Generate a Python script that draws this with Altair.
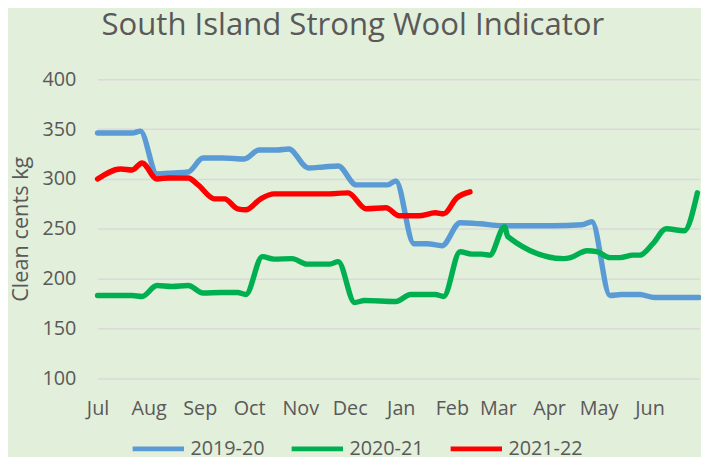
import altair as alt
import pandas as pd

series = ["2019-20", "2020-21", "2021-22"]
colors = ["#5B9BD5", "#00B050", "#FF0000"]
y_ticks = [100, 150, 200, 250, 300, 350, 400]

# days since 1 July
days_2019_20 = [0, 13, 21, 26, 36, 46, 55, 64, 76, 89, 98, 109, 116, 128, 137, 146, 157, 166, 176, 181,
                192, 200, 209, 220, 232, 245, 259, 276, 294, 300, 311, 318, 329, 338, 352, 365]
vals_2019_20 = [346, 346, 346, 348, 305, 306, 307, 321, 321, 320, 329, 329, 330, 311, 312, 313, 294, 294, 294, 298,
                235, 235, 233, 256, 255, 253, 253, 253, 254, 257, 183, 184, 184, 181, 181, 181]

days_2020_21 = [0, 21, 27, 36, 45, 55, 64, 75, 85, 90, 100, 107, 118, 127, 141, 146, 156, 162, 181, 190,
                205, 210, 220, 227, 233, 238, 247, 249, 283, 287, 297, 303, 311, 317, 325, 329, 337, 345, 356, 364]
vals_2020_21 = [183, 183, 182, 193, 192, 193, 185.5, 186, 186, 184, 222, 219.5, 220, 214.5, 214.5, 217, 176, 178, 177, 184,
                184, 182, 227, 224.5, 224.5, 223.5, 252, 242, 220, 221, 228, 227, 221, 221, 223.5, 223.5, 235, 250, 248, 286]

days_2021_22 = [0, 14, 21, 27, 36, 43, 55, 61, 71, 77, 85, 90, 99, 107, 121, 139, 152, 163, 175,
                183, 195, 205, 210, 218, 226]
vals_2021_22 = [300, 310, 309, 316, 300, 301, 301, 294, 280, 280, 270, 269, 280, 285, 285, 285, 286, 270, 271,
                263, 263, 266, 265, 281, 287]

start = pd.Timestamp("2021-07-01")
rows = []
for name, days, vals in [("2019-20", days_2019_20, vals_2019_20),
                         ("2020-21", days_2020_21, vals_2020_21),
                         ("2021-22", days_2021_22, vals_2021_22)]:
    for d, v in zip(days, vals):
        rows.append({"date": (start + pd.Timedelta(days=d)).strftime("%Y-%m-%dT%H:%M:%S"),
                     "value": v, "season": name})
df = pd.DataFrame(rows)

tick_dates = [alt.DateTime(year=2021 if m >= 7 else 2022, month=m, date=1)
              for m in [7, 8, 9, 10, 11, 12, 1, 2, 3, 4, 5, 6]]

TXT = "#595959"
FONT = "Open Sans"

chart = alt.Chart(df).mark_line(
    strokeWidth=5.5, interpolate="monotone", strokeCap="round", strokeJoin="round"
).encode(
    x=alt.X("date:T",
            scale=alt.Scale(domain=[alt.DateTime(year=2021, month=7, date=1),
                                    alt.DateTime(year=2022, month=7, date=1)]),
            axis=alt.Axis(values=tick_dates, format="%b", title=None, grid=False, domain=False,
                          ticks=False, labelFlush=False, labelPadding=21, labelFontSize=20,
                          labelColor=TXT, labelFont=FONT, labelOverlap=False)),
    y=alt.Y("value:Q",
            scale=alt.Scale(domain=[100, 400], nice=False, zero=False),
            axis=alt.Axis(values=y_ticks, title="Clean cents kg", domain=False, ticks=False,
                          labelPadding=22, labelFontSize=20, labelColor=TXT, labelFont=FONT,
                          gridColor="#D9D9D9", gridWidth=1.5,
                          titleFontSize=22, titleFont=FONT, titleColor=TXT, titleFontWeight="normal",
                          titleX=-70.7, titleY=151.35, titleAngle=270, titleBaseline="alphabetic",
                          titleAlign="center")),
    color=alt.Color("season:N",
                    scale=alt.Scale(domain=series, range=colors),
                    legend=alt.Legend(title=None, orient="none", legendX=33, legendY=345.5,
                                      direction="horizontal", symbolType="stroke", symbolSize=2704,
                                      symbolStrokeWidth=5, labelFontSize=20, labelFont=FONT,
                                      labelColor=TXT, labelOffset=4, columnPadding=16, padding=0))
).properties(
    width=609,
    height=302.7,
    title=alt.TitleParams("South Island Strong Wool Indicator", fontSize=31.5, font=FONT,
                          color=TXT, fontWeight="normal", anchor="middle", dx=-46,
                          baseline="alphabetic", offset=3),
    padding={"left": 90.7, "top": 69.3, "right": 2, "bottom": 85},
    autosize="none",
    background="#E2EFDA",
).configure_view(stroke=None)

chart.save("out.html", embed_options={"renderer": "svg", "actions": False})
